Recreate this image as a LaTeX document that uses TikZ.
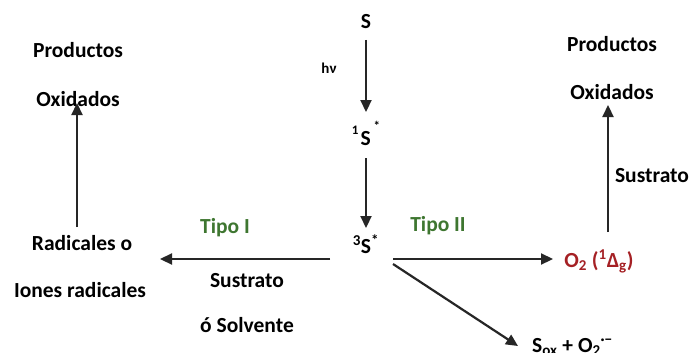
\documentclass[tikz,border=0pt]{standalone}
\usepackage{fontspec}
\setmainfont{Carlito}
\usetikzlibrary{arrows.meta}
\definecolor{tipogreen}{RGB}{62,118,48}
\definecolor{oxred}{RGB}{165,32,36}
\begin{document}
\begin{tikzpicture}[x=1pt,y=-1pt,
  lbl/.style={font=\fontsize{21.5}{24}\selectfont\bfseries, inner sep=0pt,
              text height=14pt, text depth=0pt},
  tipo/.style={lbl, text=tipogreen},
  arr/.style={line width=2.2pt, draw=black!85, -{Triangle[length=12pt,width=11pt]}}]
\useasboundingbox (0,0) rectangle (690,353);
\fill[white] (0,0) rectangle (690,353);

% excited-state ladder of the sensitizer
\node[lbl] (S)  at (366,22)  {S};
\node[lbl, font=\fontsize{15}{17}\selectfont\bfseries] (hv) at (329,67) {hν};
\node[lbl] (S1) at (366,138) {\raisebox{1.0ex}{\fontsize{13}{14}\selectfont 1}\hspace{2pt}S\raisebox{1.4ex}{\fontsize{13}{14}\selectfont\ *}};
\node[lbl] (S3) at (366,246) {\textsuperscript{3}S\textsuperscript{*}};

% Type I branch
\node[lbl]  (ProdL) at (78,50)   {Productos};
\node[lbl]  (OxL)   at (78,99)   {Oxidados};
\node[lbl]  (Rad)   at (82,243)  {Radicales o};
\node[lbl]  (Iones) at (80,290)  {Iones radicales};
\node[tipo] (TipoI) at (225,226) {Tipo I};
\node[lbl]  (SusL)  at (247,280) {Sustrato};
\node[lbl]  (Solv)  at (247,325) {ó Solvente};

% Type II branch
\node[tipo] (TipoII) at (438,224) {Tipo II};
\node[lbl, text=oxred] (O2) at (599,260) {O\textsubscript{2} (\textsuperscript{1}Δ\textsubscript{g})};
\node[lbl]  (ProdR) at (612,45)  {Productos};
\node[lbl]  (OxR)   at (612,92)  {Oxidados};
\node[lbl]  (SusR)  at (652,175) {Sustrato};
\node[lbl, anchor=base west] (Sox) at (532,352) {S\textsubscript{ox} + O\textsubscript{2}\textsuperscript{·−}};

% connectors
\draw[arr] ([yshift=-18pt]S.center) -- ([yshift=26pt]S1.center);
\draw[arr] ([yshift=-20pt]S1.center) -- ([yshift=18pt]S3.center);
\draw[arr] ([xshift=-36pt,yshift=-13pt]S3.center) -- ([xshift=78pt,yshift=-16pt]Rad.center);
\draw[arr] ([xshift=27pt,yshift=-13pt]S3.center) -- ([xshift=-46pt,yshift=1pt]O2.center);
\draw[arr] ([xshift=27pt,yshift=-18pt]S3.center) -- ([xshift=-14pt,yshift=6pt]Sox.base west);
\draw[arr] ([xshift=-5pt,yshift=16pt]Rad.center) -- ([xshift=-1pt,yshift=-4pt]OxL.center);
\draw[arr] ([xshift=9pt,yshift=28pt]O2.center) -- ([xshift=-4pt,yshift=-13pt]OxR.center);
\end{tikzpicture}
\end{document}
